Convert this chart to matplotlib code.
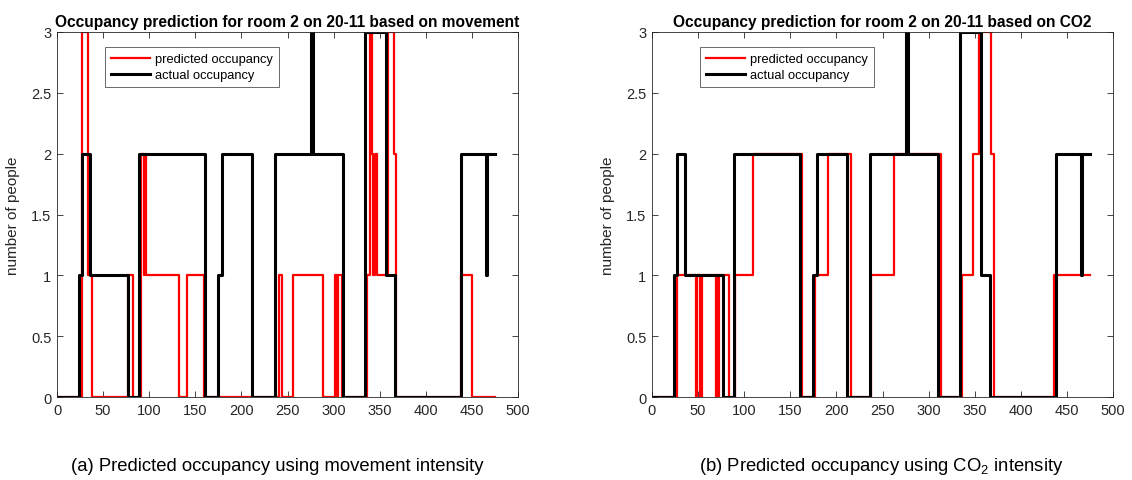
import numpy as np
import matplotlib
matplotlib.use("Agg")
import matplotlib.pyplot as plt

# Time steps (samples) for the day
n_samples = 476

# Occupancy as runs of (start_index, value); each value holds until the next start
actual_runs = [
    (0, 0), (24, 1), (27, 2), (36, 1), (77, 0), (89, 2), (160, 0), (175, 1),
    (179, 2), (211, 0), (236, 2), (276, 3), (278, 2), (310, 0), (334, 3),
    (357, 1), (367, 0), (438, 2), (465, 1), (466, 2),
]
movement_runs = [
    (0, 0), (27, 3), (34, 1), (38, 0), (77, 1), (82, 0), (91, 2), (94, 1),
    (95, 2), (97, 1), (132, 0), (141, 1), (159, 0), (241, 1), (244, 0),
    (256, 1), (288, 0), (302, 1), (304, 0), (305, 1), (309, 0), (336, 1),
    (340, 3), (342, 2), (343, 1), (345, 2), (347, 1), (359, 3), (365, 2),
    (368, 0), (438, 1), (450, 0),
]
co2_runs = [
    (0, 0), (27, 1), (48, 0), (49, 1), (52, 0), (54, 1), (69, 0), (71, 1),
    (72, 0), (73, 1), (83, 0), (90, 1), (110, 2), (163, 0), (177, 1),
    (191, 2), (216, 0), (237, 1), (263, 2), (313, 0), (336, 1), (348, 2),
    (355, 3), (368, 2), (371, 0), (436, 1),
]

titles = [
    "Occupancy prediction for room 2 on 20-11 based on movement",
    "Occupancy prediction for room 2 on 20-11 based on CO2",
]
captions = [
    "(a) Predicted occupancy using movement intensity",
    "(b) Predicted occupancy using CO$_2$ intensity",
]
x_ticks = list(range(0, 501, 50))
y_ticks = [0, 0.5, 1, 1.5, 2, 2.5, 3]
y_tick_labels = ["0", "0.5", "1", "1.5", "2", "2.5", "3"]


def expand(runs, n):
    values = np.zeros(n)
    for i, (start, val) in enumerate(runs):
        end = runs[i + 1][0] if i + 1 < len(runs) else n
        values[start:end] = val
    return values


t = np.arange(n_samples)
actual = expand(actual_runs, n_samples)
predicted = [expand(movement_runs, n_samples), expand(co2_runs, n_samples)]

plt.rcParams["font.family"] = ["Liberation Sans", "DejaVu Sans"]
plt.rcParams["mathtext.fontset"] = "custom"
plt.rcParams["mathtext.rm"] = "Liberation Sans"
axis_grey = (0.15, 0.15, 0.15)

fig = plt.figure(figsize=(11.32, 4.81), dpi=100)
W, H = 1132, 481
lefts = [57, 652]
ax_w, top_px, bot_px = 461, 33, 398
caption_x = [277, 881]

for k in range(2):
    ax = fig.add_axes([lefts[k] / W, 1 - bot_px / H, ax_w / W, (bot_px - top_px) / H])
    ax.step(t, predicted[k], where="post", color="#ff0000", lw=1.6,
            label="predicted occupancy")
    ax.step(t, actual, where="post", color="black", lw=2.2,
            label="actual occupancy")
    ax.set_xlim(0, 500)
    ax.set_ylim(0, 3)
    ax.set_xticks(x_ticks)
    ax.set_yticks(y_ticks)
    ax.set_yticklabels(y_tick_labels)
    ax.tick_params(direction="in", top=True, right=True, length=4, width=0.6,
                   colors=axis_grey, labelsize=10.5, pad=4)
    for sp in ax.spines.values():
        sp.set_color(axis_grey)
        sp.set_linewidth(0.6)
    ax.set_ylabel("number of people", fontsize=11, color=axis_grey, labelpad=8)
    ax.set_title(titles[k], fontsize=11.2, fontweight="bold", pad=4)
    leg = ax.legend(loc="upper left", bbox_to_anchor=(0.105, 0.958),
                    fontsize=9.3, frameon=True, fancybox=False, handlelength=3.0,
                    borderpad=0.45, labelspacing=0.3, handletextpad=0.4,
                    borderaxespad=0)
    leg.get_frame().set_edgecolor(axis_grey)
    leg.get_frame().set_linewidth(0.6)
    fig.text(caption_x[k] / W, 1 - 467 / H, captions[k], ha="center", va="center",
             fontsize=13.3)

fig.savefig("out.png", dpi=100)
